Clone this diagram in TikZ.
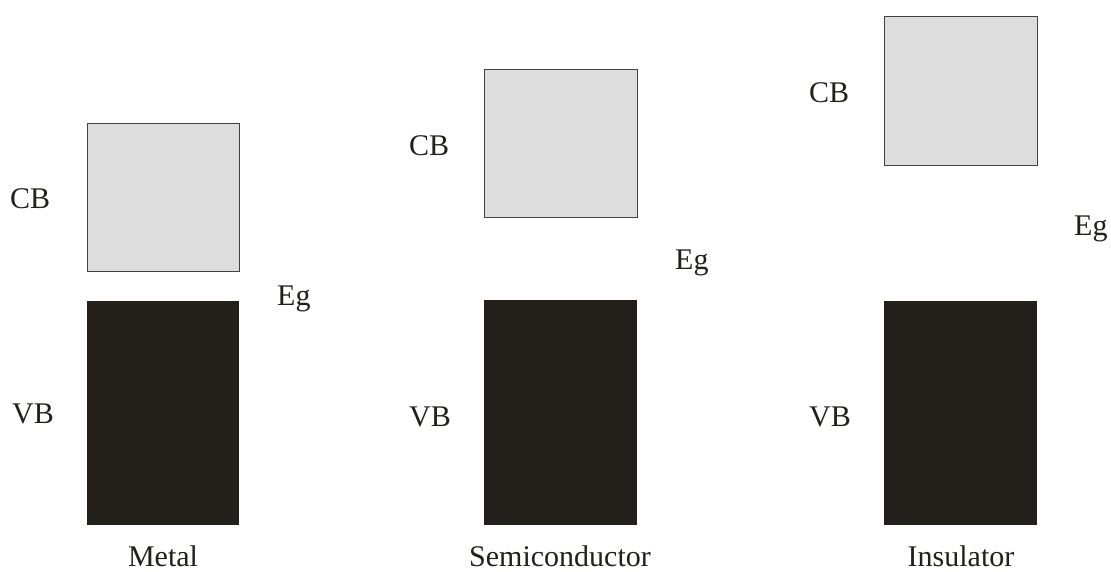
\documentclass[tikz,border=0pt]{standalone}
\usepackage{fontspec}
\setmainfont{Liberation Serif}
\definecolor{bandgray}{RGB}{221,221,221}
\definecolor{banddark}{RGB}{35,32,28}
\tikzset{
	cbbox/.style={draw=banddark!85,line width=0.9pt,fill=bandgray,inner sep=0pt,outer sep=0pt,anchor=north west},
	vbbox/.style={fill=banddark,inner sep=0pt,outer sep=0pt,anchor=north west},
	bandlbl/.style={inner sep=0pt,anchor=base west,text=banddark,font=\fontsize{30}{36}\selectfont},
	matlbl/.style={inner sep=0pt,anchor=base,text=banddark,font=\fontsize{30}{36}\selectfont}
}
\begin{document}
\begin{tikzpicture}[x=1pt,y=-1pt]
		\useasboundingbox (0,0) rectangle (1111,571);
		% metal
		\node[cbbox,minimum width=152pt,minimum height=148pt] (cbM) at (87,123) {};
		\node[vbbox,minimum width=152pt,minimum height=224pt] (vbM) at (87,301) {};
		\node[bandlbl] (cbMl) at (10,208) {CB};
		\node[bandlbl] (vbMl) at (12,423) {VB};
		\node[bandlbl] (egM) at (277,305) {Eg};
		\node[matlbl] (metal) at (163,566) {Metal};
		% semiconductor
		\node[cbbox,minimum width=153pt,minimum height=148pt] (cbS) at (484,69) {};
		\node[vbbox,minimum width=153pt,minimum height=225pt] (vbS) at (484,300) {};
		\node[bandlbl] (cbSl) at (409,155) {CB};
		\node[bandlbl] (vbSl) at (409,426) {VB};
		\node[bandlbl] (egS) at (675,269) {Eg};
		\node[matlbl] (semi) at (560,566) {Semiconductor};
		% insulator
		\node[cbbox,minimum width=153pt,minimum height=149pt] (cbI) at (884,16) {};
		\node[vbbox,minimum width=153pt,minimum height=224pt] (vbI) at (884,301) {};
		\node[bandlbl] (cbIl) at (809,102) {CB};
		\node[bandlbl] (vbIl) at (809,426) {VB};
		\node[bandlbl] (egI) at (1074,235) {Eg};
		\node[matlbl] (insul) at (961,566) {Insulator};
\end{tikzpicture}
\end{document}
